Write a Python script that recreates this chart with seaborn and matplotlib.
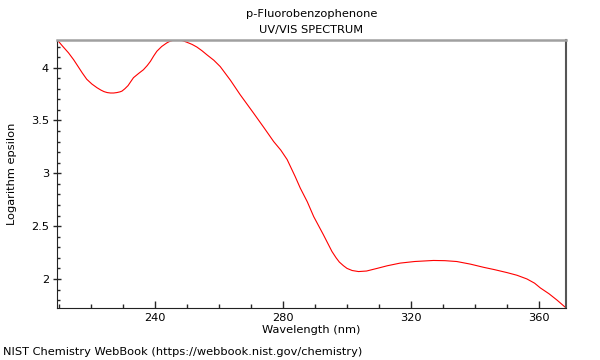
import numpy as np
import pandas as pd
import seaborn as sns
from matplotlib import pyplot as plt
from matplotlib.ticker import MultipleLocator

# spectrum
wavelength = [209.4, 211.0, 212.9, 214.5, 215.8, 217.2, 218.6, 220.2, 221.8, 223.0,
              224.0, 225.0, 226.0, 227.0, 228.0, 229.0, 229.6, 230.5, 231.5, 232.4,
              233.2, 234.8, 236.3, 237.5, 238.5, 239.5, 240.5, 242.0, 243.6, 244.6,
              245.5, 246.4, 247.3, 248.6, 249.9, 251.5, 253.0, 254.6, 256.2, 258.3,
              260.3, 263.5, 266.5, 270.7, 274.0, 277.0, 279.2, 281.2, 283.7, 285.3,
              287.5, 289.5, 292.5, 295.2, 296.5, 297.5, 298.8, 299.9, 301.5, 303.5,
              306.0, 309.3, 312.5, 316.5, 321.0, 326.9, 330.5, 334.2, 338.5, 342.6,
              346.0, 349.9, 353.0, 356.1, 358.5, 360.3, 363.0, 365.5, 368.25]
log_eps = [4.262, 4.205, 4.14, 4.075, 4.015, 3.95, 3.89, 3.845, 3.81, 3.788,
           3.773, 3.764, 3.76, 3.76, 3.764, 3.771, 3.778, 3.8, 3.83, 3.87,
           3.905, 3.945, 3.98, 4.02, 4.06, 4.11, 4.155, 4.2, 4.234, 4.25,
           4.258, 4.262, 4.262, 4.255, 4.24, 4.22, 4.195, 4.16, 4.12, 4.07,
           4.01, 3.88, 3.745, 3.57, 3.43, 3.30, 3.22, 3.13, 2.97, 2.86,
           2.73, 2.59, 2.42, 2.26, 2.2, 2.16, 2.125, 2.10, 2.08, 2.07,
           2.075, 2.10, 2.125, 2.15, 2.165, 2.175, 2.173, 2.165, 2.14, 2.11,
           2.088, 2.06, 2.035, 2.00, 1.96, 1.915, 1.86, 1.80, 1.728]

df = pd.DataFrame({'Wavelength': wavelength, 'LogEps': log_eps})

sns.set_style('white')
plt.rcParams['font.family'] = ['DejaVu Sans']
plt.rcParams['text.color'] = 'black'

fig = plt.figure(figsize=(6, 3.6), dpi=100)
ax = fig.add_axes([0.0955, 0.1453, 0.8475, 0.7437])

sns.lineplot(data=df, x='Wavelength', y='LogEps', color='red', linewidth=0.8, ax=ax)

ax.set_xlim(209.4, 368.25)
ax.set_ylim(1.728, 4.262)
ax.xaxis.set_major_locator(MultipleLocator(40))
ax.xaxis.set_minor_locator(MultipleLocator(10))
ax.yaxis.set_major_locator(MultipleLocator(0.5))
ax.yaxis.set_minor_locator(MultipleLocator(0.1))
ax.yaxis.set_major_formatter(plt.FuncFormatter(lambda v, p: f'{v:g}'))

ax.tick_params(axis='x', which='major', direction='in', length=5, width=1, labelsize=8.2,
               labelcolor='black', pad=4, bottom=True)
ax.tick_params(axis='x', which='minor', direction='in', length=3, width=1, bottom=True)
ax.tick_params(axis='y', which='major', direction='inout', length=6, width=1, labelsize=8.2,
               labelcolor='black', pad=3, left=True)
ax.tick_params(axis='y', which='minor', direction='in', length=2.5, width=1, left=True)

ax.spines['top'].set_color('#a0a0a0')
ax.spines['top'].set_linewidth(1.8)
ax.spines['right'].set_color('#555555')
ax.spines['right'].set_linewidth(1.5)
ax.spines['left'].set_color('#222222')
ax.spines['bottom'].set_color('#222222')

ax.set_xlabel('Wavelength (nm)', fontsize=8.2, color='black', labelpad=1)
ax.set_ylabel('Logarithm epsilon', fontsize=8.2, color='black', labelpad=10)

fig.text(0.519, 0.962, 'p-Fluorobenzophenone', ha='center', va='center', fontsize=8.2, color='black')
fig.text(0.519, 0.916, 'UV/VIS SPECTRUM', ha='center', va='center', fontsize=8.2, color='black')
fig.text(0.005, 0.022, 'NIST Chemistry WebBook (https://webbook.nist.gov/chemistry)',
         ha='left', va='center', fontsize=8.2, color='black')

fig.savefig('out.png', dpi=100)
